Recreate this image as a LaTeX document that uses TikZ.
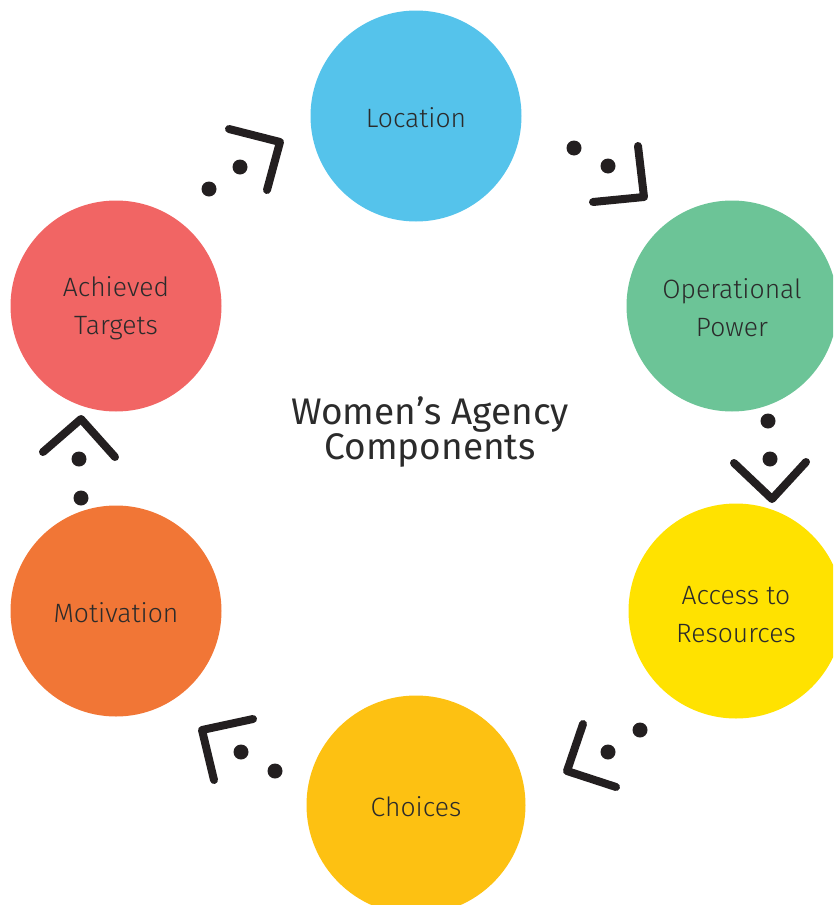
\documentclass[tikz,border=0pt]{standalone}
\usepackage{fontspec}
\setmainfont{Fira Sans}[UprightFont=* Light]
\newfontfamily\titlefont{Fira Sans}
\definecolor{cLoc}{HTML}{55C3EB}
\definecolor{cOp}{HTML}{6CC497}
\definecolor{cAcc}{HTML}{FFE200}
\definecolor{cCho}{HTML}{FDC112}
\definecolor{cMot}{HTML}{F17636}
\definecolor{cAch}{HTML}{F16564}
\definecolor{ink}{HTML}{231F20}
\definecolor{txt}{HTML}{2B2B2B}
\begin{document}
\begin{tikzpicture}[x=1pt,y=-1pt,
  comp/.style={circle,minimum size=211pt,inner sep=0pt},
  lab/.style={text=txt,align=center,inner sep=0pt,
     font=\fontsize{26.5}{38}\selectfont},
  chev/.style={draw=ink,line width=8pt,line cap=round,line join=round},
  dotmark/.style={fill=ink}]
\useasboundingbox (0,0) rectangle (833,905);
\begin{scope}
\clip (0,0) rectangle (833,905);
\node[comp,fill=cLoc] (loc) at (416,116) {};
\node[comp,fill=cOp] (op) at (732,306) {};
\node[comp,fill=cAcc,minimum size=215pt] (acc) at (736,611) {};
\node[comp,fill=cCho,minimum size=219pt] (cho) at (416,805) {};
\node[comp,fill=cMot] (mot) at (116,611) {};
\node[comp,fill=cAch] (ach) at (116,306) {};
\end{scope}
\node[lab] (locT) at ([yshift=-2pt]loc.center) {Location};
\node[lab] (opT) at ([yshift=-2pt]op.center) {Operational\\Power};
\node[lab] (accT) at ([yshift=-4pt]acc.center) {Access to\\Resources};
\node[lab] (choT) at ([yshift=-2pt]cho.center) {Choices};
\node[lab] (motT) at ([yshift=-2pt]mot.center) {Motivation};
\node[lab] (achT) at ([yshift=-2pt]ach.center) {Achieved\\Targets};
\node[text=txt,align=center,font=\titlefont\fontsize{37}{35}\selectfont] (title) at (430,432) {Women’s Agency\\Components};
% Achieved -> Location
\draw[chev] (229,129) -- (280,142) -- (267,190);
\fill[dotmark] (240,167) circle (7.5) (209,189) circle (7.5);
% Location -> Operational
\draw[chev] (638,146) -- (644,197) -- (593,202);
\fill[dotmark] (574,148) circle (7.5) (608,166) circle (7.5);
% Operational -> Access
\draw[chev] (734,463) -- (772,499) -- (806,462);
\fill[dotmark] (768,421) circle (7.5) (770,459) circle (7.5);
% Access -> Choices
\draw[chev] (583,724) -- (567,771) -- (616,787);
\fill[dotmark] (640,730) circle (7.5) (608,752) circle (7.5);
% Choices -> Motivation
\draw[chev] (253,719) -- (202,730) -- (214,780);
\fill[dotmark] (241,752) circle (7.5) (275,771) circle (7.5);
% Motivation -> Achieved
\draw[chev] (43,452) -- (81,419) -- (115,457);
\fill[dotmark] (79,459) circle (7.5) (81,498) circle (7.5);
\end{tikzpicture}
\end{document}
